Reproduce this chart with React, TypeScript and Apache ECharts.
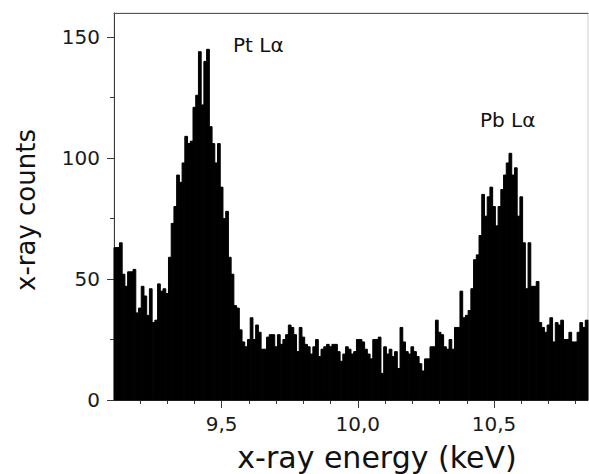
import { useEffect, useRef } from 'react';
import * as echarts from 'echarts';

// Histogram channels: start energy (keV) and channel width (keV)
const BIN_START = 9.105;
const BIN_WIDTH = 0.01;
const X_MIN = 9.105;
const X_MAX = 10.845;
const Y_MIN = 0;
const Y_MAX = 160;

// Counts per channel (left to right)
const counts = [
  63, 63, 65, 52, 47, 53, 53, 54, 36, 38,
  47, 43, 35, 46, 32, 33, 48, 45, 46, 44,
  59, 73, 80, 93, 90, 98, 109, 106, 107, 121,
  126, 144, 122, 140, 145, 113, 106, 98, 106, 88,
  75, 78, 59, 52, 39, 38, 29, 24, 22, 25,
  34, 25, 31, 28, 21, 21, 26, 27, 27, 22,
  27, 23, 25, 27, 31, 30, 27, 20, 30, 26,
  23, 22, 19, 22, 25, 18, 21, 22, 23, 22,
  23, 23, 20, 16, 19, 22, 21, 19, 20, 25,
  25, 24, 21, 19, 17, 25, 25, 26, 11, 22,
  19, 21, 18, 20, 13, 30, 24, 20, 19, 22,
  20, 18, 15, 12, 17, 17, 22, 22, 33, 28,
  27, 22, 21, 25, 21, 30, 30, 45, 34, 35,
  37, 46, 58, 60, 68, 85, 76, 84, 88, 80,
  72, 80, 87, 93, 98, 102, 93, 96, 76, 84,
  65, 46, 65, 47, 47, 49, 32, 30, 28, 31,
  34, 24, 32, 31, 33, 25, 25, 28, 24, 24,
  28, 32, 30, 33,
];

const xMajorTicks = [9.5, 10.0, 10.5];
const xMinorTicks = [9.2, 9.3, 9.4, 9.6, 9.7, 9.8, 9.9, 10.1, 10.2, 10.3, 10.4, 10.6, 10.7, 10.8];
const yMajorTicks = [0, 50, 100, 150];
const yMinorTicks = [25, 75, 125];
const peakLabels = ['Pt Lα', 'Pb Lα'];
const xTitle = 'x-ray energy (keV)';
const yTitle = 'x-ray counts';

export default function App() {
  const ref = useRef<HTMLDivElement>(null);

  useEffect(() => {
    if (!ref.current) return;
    const chart = echarts.init(ref.current, null, { renderer: 'svg' });

    const data = counts.map((c, i) => [
      BIN_START + i * BIN_WIDTH,
      BIN_START + (i + 1) * BIN_WIDTH,
      c,
    ]);

    const axisColor = '#3a3a3a';
    const labelFont = {
      fontFamily: 'DejaVu Sans',
      fontSize: 20,
      color: '#1a1a1a',
    };

    chart.setOption({
      animation: false,
      grid: {
        left: 114,
        right: 1,
        top: 13,
        bottom: 74,
        show: true,
        borderColor: '#cfcfcf',
        borderWidth: 1,
        backgroundColor: '#fff',
      },
      xAxis: [
        {
          type: 'value',
          min: X_MIN,
          max: X_MAX,
          position: 'bottom',
          axisLine: { show: true, lineStyle: { color: axisColor, width: 1 } },
          axisTick: {
            show: true,
            customValues: xMajorTicks,
            length: 8,
            lineStyle: { color: axisColor },
          },
          axisLabel: {
            customValues: xMajorTicks,
            formatter: (v: number) => v.toFixed(1).replace('.', ','),
            margin: 14,
            ...labelFont,
          },
          splitLine: { show: false },
        },
        {
          type: 'value',
          min: X_MIN,
          max: X_MAX,
          position: 'bottom',
          axisLine: { show: false },
          axisTick: {
            show: true,
            customValues: xMinorTicks,
            length: 4,
            lineStyle: { color: axisColor },
          },
          axisLabel: { show: false },
          splitLine: { show: false },
        },
        {
          type: 'value',
          min: X_MIN,
          max: X_MAX,
          position: 'top',
          axisLine: { show: true, lineStyle: { color: '#555', width: 1 } },
          axisTick: { show: false },
          axisLabel: { show: false },
          splitLine: { show: false },
        },
      ],
      yAxis: [
        {
          type: 'value',
          min: Y_MIN,
          max: Y_MAX,
          position: 'left',
          axisLine: { show: true, lineStyle: { color: axisColor, width: 1 } },
          axisTick: {
            show: true,
            customValues: yMajorTicks,
            length: 7,
            lineStyle: { color: axisColor },
          },
          axisLabel: {
            customValues: yMajorTicks,
            margin: 14,
            ...labelFont,
          },
          splitLine: { show: false },
        },
        {
          type: 'value',
          min: Y_MIN,
          max: Y_MAX,
          position: 'left',
          axisLine: { show: false },
          axisTick: {
            show: true,
            customValues: yMinorTicks,
            length: 4,
            lineStyle: { color: axisColor },
          },
          axisLabel: { show: false },
          splitLine: { show: false },
        },
      ],
      series: [
        {
          type: 'custom',
          xAxisIndex: 0,
          yAxisIndex: 0,
          data,
          encode: { x: [0, 1], y: 2 },
          renderItem: (_params: any, api: any) => {
            const topLeft = api.coord([api.value(0), api.value(2)]);
            const bottomRight = api.coord([api.value(1), 0]);
            return {
              type: 'rect',
              shape: {
                x: topLeft[0],
                y: topLeft[1],
                width: bottomRight[0] - topLeft[0],
                height: bottomRight[1] - topLeft[1],
              },
              style: { fill: '#000', stroke: '#000', lineWidth: 1 },
            };
          },
        },
      ],
      graphic: [
        {
          type: 'text',
          x: 233,
          y: 45,
          style: {
            text: peakLabels[0],
            fontFamily: 'DejaVu Sans',
            fontSize: 20,
            fill: '#111',
            textAlign: 'left',
            textVerticalAlign: 'middle',
          },
        },
        {
          type: 'text',
          x: 480,
          y: 120,
          style: {
            text: peakLabels[1],
            fontFamily: 'DejaVu Sans',
            fontSize: 20,
            fill: '#111',
            textAlign: 'left',
            textVerticalAlign: 'middle',
          },
        },
        {
          type: 'text',
          x: 377,
          y: 457,
          style: {
            text: xTitle,
            fontFamily: 'DejaVu Sans',
            fontSize: 30,
            fill: '#111',
            textAlign: 'center',
            textVerticalAlign: 'middle',
          },
        },
        {
          type: 'text',
          x: 26,
          y: 210,
          rotation: Math.PI / 2,
          style: {
            text: yTitle,
            fontFamily: 'DejaVu Sans',
            fontSize: 26,
            fill: '#111',
            textAlign: 'center',
            textVerticalAlign: 'middle',
          },
        },
      ],
    });

    return () => chart.dispose();
  }, []);

  return (
    <div
      ref={ref}
      style={{ position: 'absolute', left: 0, top: 0, width: 589, height: 474 }}
    />
  );
}
